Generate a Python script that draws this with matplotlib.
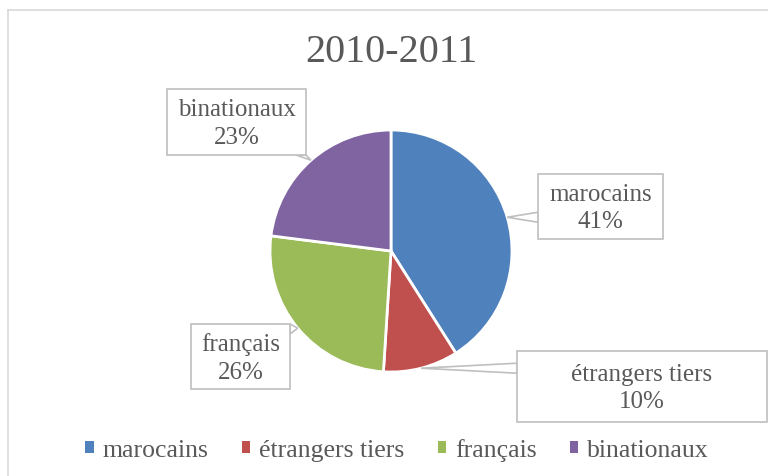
import numpy as np
import matplotlib.pyplot as plt
from matplotlib.patches import Patch, Rectangle, Polygon

# data
title = "2010-2011"
labels = ["marocains", "étrangers tiers", "français", "binationaux"]
values = [41, 10, 26, 23]
colors = ["#4F81BD", "#C0504D", "#9BBB59", "#8064A2"]

# callout boxes (left, top, right, bottom) in pixels from top-left
boxes = [(538, 175, 663, 240), (517, 352, 767, 423),
         (191, 325, 290, 390), (167, 90, 306, 156)]

W, H = 768, 477
grey = "#595959"
plt.rcParams['font.family'] = ['Liberation Serif', 'DejaVu Serif']

fig = plt.figure(figsize=(W / 100, H / 100), dpi=100)
ax = fig.add_axes([0, 0, 1, 1])

# chart area border (cropped at right/bottom)
ax.plot([8, 8], [0, H - 11], color="#D9D9D9", lw=1.2)
ax.plot([8, W], [H - 11, H - 11], color="#D9D9D9", lw=1.2)

cx, cy, r = 391, H - 252, 121
ax.pie(values, colors=colors, startangle=90, counterclock=False,
       center=(cx, cy), radius=r, frame=True,
       wedgeprops=dict(edgecolor="white", linewidth=2))
ax.set_xlim(0, W)
ax.set_ylim(0, H)
ax.axis('off')

ax.text(cx, H - 52, title, fontsize=29, color=grey, ha='center', va='center')

# callouts
cum = np.cumsum([0] + values[:-1])
total = sum(values)
for lab, v, c0, (l, t, rr, b) in zip(labels, values, cum, boxes):
    ang = np.deg2rad((c0 + v / 2) / total * 360)
    tx, ty = cx + r * np.sin(ang), cy + r * np.cos(ang)
    L, R, T, B = l, rr, H - t, H - b
    # nearest point on the box edge to the tip
    px, py = min(max(tx, L), R), min(max(ty, B), T)
    hw = 5
    if px in (L, R) and B < py < T:
        py = min(max(py, B + hw), T - hw)
        base = [(px, py - hw), (px, py + hw)]
    else:
        px = min(max(px, L + hw), R - hw)
        base = [(px - hw, py), (px + hw, py)]
    ax.add_patch(Polygon([base[0], (tx, ty), base[1]], closed=True,
                         facecolor="white", edgecolor="#BFBFBF", lw=1.2, zorder=3))
    ax.add_patch(Rectangle((L, B), R - L, T - B, facecolor="white",
                           edgecolor="#BFBFBF", lw=1.2, zorder=4))
    ax.text((L + R) / 2, (T + B) / 2 - 1, f"{lab}\n{v}%", fontsize=18, color=grey,
            ha='center', va='center', linespacing=1.35, zorder=5)

handles = [Patch(facecolor=c, edgecolor='none') for c in colors]
fig.legend(handles, labels, loc='center', bbox_to_anchor=(397 / W, 1 - 451 / H),
           ncol=4, frameon=False, fontsize=18.5, labelcolor=grey,
           handlelength=0.32, handleheight=0.32, handletextpad=0.35,
           columnspacing=1.3)

fig.savefig("out.png", dpi=100)
